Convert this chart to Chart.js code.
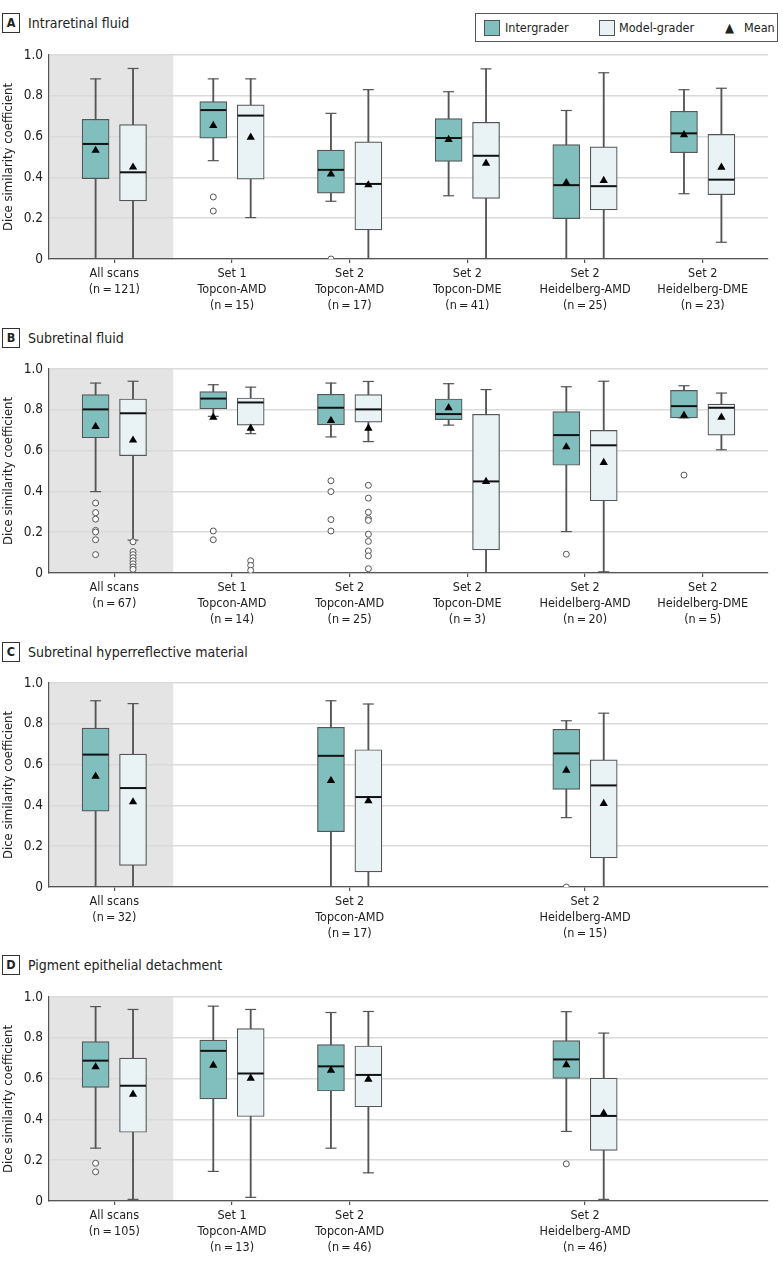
<!DOCTYPE html>
<html>
<head>
<meta charset="utf-8">
<script src="https://cdn.jsdelivr.net/npm/chart.js@4.4.1/dist/chart.umd.min.js"></script>
<style>
  body { margin: 0; width: 783px; height: 1265px; position: relative; background: #fff; color: #222;
         font-family: 'DejaVu Sans Condensed', 'DejaVu Sans', sans-serif; }
  .tag { position: absolute; left: 2px; width: 18px; height: 20px; border: 1px solid #333; box-sizing: border-box;
         font-weight: bold; font-size: 12.5px; line-height: 18px; text-align: center; }
  .title { position: absolute; left: 28px; font-size: 14px; line-height: 20px; }
  canvas { position: absolute; left: 0; }
  #legend { position: absolute; left: 475px; top: 13px; width: 303px; height: 29px; border: 1px solid #555;
            box-sizing: border-box; font-size: 12.5px; }
  #legend span { position: absolute; top: 5px; line-height: 17px; }
  .sw { position: absolute; top: 6px; width: 16px; height: 16px; border: 1px solid #555; box-sizing: border-box; }
</style>
</head>
<body>
<div class="tag" style="top:13px">A</div><div class="title" style="top:13px">Intraretinal fluid</div>
<div class="tag" style="top:328px">B</div><div class="title" style="top:328px">Subretinal fluid</div>
<div class="tag" style="top:642px">C</div><div class="title" style="top:642px">Subretinal hyperreflective material</div>
<div class="tag" style="top:955px">D</div><div class="title" style="top:955px">Pigment epithelial detachment</div>

<div id="legend">
  <div class="sw" style="left:8px;background:#80bfbd"></div><span style="left:29px">Intergrader</span>
  <div class="sw" style="left:123px;background:#e9f3f5"></div><span style="left:143px">Model-grader</span>
  <span style="left:249px;font-size:13px">&#9650;</span><span style="left:268px">Mean</span>
</div>

<canvas id="chartA" width="783" height="281" style="top:40px"></canvas>
<canvas id="chartB" width="783" height="281" style="top:354px"></canvas>
<canvas id="chartC" width="783" height="281" style="top:668px"></canvas>
<canvas id="chartD" width="783" height="281" style="top:982px"></canvas>

<script>
const FONT = "'DejaVu Sans Condensed', 'DejaVu Sans', sans-serif";
const INTER_FILL = '#80bfbd';
const MODEL_FILL = '#e9f3f5';
const LINE = '#555';
const SHADE = '#e4e4e4';
const OFFSET = 0.159;
const BOX_W = 27;

// each box row: [min, q1, median, q3, max]

// A  Intraretinal fluid
const irfPos = [0, 1, 2, 3, 4, 5];
const irfLabels = [['All scans', '(n\u2009=\u2009121)'], ['Set 1', 'Topcon-AMD', '(n\u2009=\u200915)'],
  ['Set 2', 'Topcon-AMD', '(n\u2009=\u200917)'], ['Set 2', 'Topcon-DME', '(n\u2009=\u200941)'],
  ['Set 2', 'Heidelberg-AMD', '(n\u2009=\u200925)'], ['Set 2', 'Heidelberg-DME', '(n\u2009=\u200923)']];
const irfInter = [[0, 0.394, 0.564, 0.685, 0.883], [0.482, 0.592, 0.730, 0.772, 0.883], [0.283, 0.323, 0.437, 0.534, 0.714],
  [0.31, 0.478, 0.593, 0.688, 0.82], [0, 0.198, 0.362, 0.561, 0.728], [0.32, 0.521, 0.616, 0.724, 0.83]];
const irfInterMean = [0.532, 0.654, 0.416, 0.585, 0.374, 0.609];
const irfInterOut = [[], [0.304, 0.235], [0], [], [], []];
const irfModel = [[0, 0.285, 0.425, 0.659, 0.934], [0.203, 0.391, 0.703, 0.756, 0.883], [0, 0.143, 0.368, 0.574, 0.83],
  [0, 0.297, 0.506, 0.670, 0.932], [0, 0.241, 0.357, 0.550, 0.913], [0.082, 0.315, 0.389, 0.611, 0.837]];
const irfModelMean = [0.45, 0.596, 0.363, 0.469, 0.384, 0.449];
const irfModelOut = [[], [], [], [], [], []];

// B  Subretinal fluid
const srfPos = [0, 1, 2, 3, 4, 5];
const srfLabels = [['All scans', '(n\u2009=\u200967)'], ['Set 1', 'Topcon-AMD', '(n\u2009=\u200914)'],
  ['Set 2', 'Topcon-AMD', '(n\u2009=\u200925)'], ['Set 2', 'Topcon-DME', '(n\u2009=\u20093)'],
  ['Set 2', 'Heidelberg-AMD', '(n\u2009=\u200920)'], ['Set 2', 'Heidelberg-DME', '(n\u2009=\u20095)']];
const srfInter = [[0.399, 0.663, 0.802, 0.874, 0.931], [0.768, 0.805, 0.855, 0.889, 0.923], [0.667, 0.726, 0.810, 0.876, 0.931],
  [0.725, 0.752, 0.779, 0.853, 0.928], [0.203, 0.528, 0.676, 0.791, 0.913], [0.76, 0.76, 0.818, 0.895, 0.918]];
const srfInterMean = [0.718, 0.763, 0.747, 0.810, 0.618, 0.773];
const srfInterOut = [[0.343, 0.296, 0.264, 0.209, 0.201, 0.163, 0.090], [0.206, 0.163], [0.452, 0.399, 0.262, 0.206],
  [], [0.092], [0.480]];
const srfModel = [[0.161, 0.575, 0.783, 0.853, 0.940], [0.683, 0.725, 0.836, 0.858, 0.911], [0.644, 0.739, 0.802, 0.874, 0.939],
  [0, 0.113, 0.449, 0.778, 0.899], [0.006, 0.354, 0.626, 0.699, 0.940], [0.604, 0.676, 0.810, 0.828, 0.882]];
const srfModelMean = [0.651, 0.709, 0.709, 0.448, 0.541, 0.763];
const srfModelOut = [[0.153, 0.105, 0.09, 0.075, 0.06, 0.045, 0.03, 0.018], [0.06, 0.037, 0.013],
  [0.430, 0.367, 0.298, 0.267, 0.258, 0.190, 0.155, 0.108, 0.084, 0.021], [], [], []];

// C  Subretinal hyperreflective material
const shrmPos = [0, 2, 4];
const shrmLabels = [['All scans', '(n\u2009=\u200932)'], ['Set 2', 'Topcon-AMD', '(n\u2009=\u200917)'],
  ['Set 2', 'Heidelberg-AMD', '(n\u2009=\u200915)']];
const shrmInter = [[0, 0.372, 0.649, 0.779, 0.913], [0, 0.271, 0.643, 0.783, 0.913], [0.340, 0.478, 0.655, 0.773, 0.815]];
const shrmInterMean = [0.543, 0.522, 0.572];
const shrmInterOut = [[], [], [0]];
const shrmModel = [[0, 0.106, 0.485, 0.651, 0.899], [0, 0.074, 0.441, 0.673, 0.897], [0, 0.143, 0.498, 0.623, 0.852]];
const shrmModelMean = [0.417, 0.422, 0.409];
const shrmModelOut = [[], [], []];

// D  Pigment epithelial detachment
const pedPos = [0, 1, 2, 4];
const pedLabels = [['All scans', '(n\u2009=\u2009105)'], ['Set 1', 'Topcon-AMD', '(n\u2009=\u200913)'],
  ['Set 2', 'Topcon-AMD', '(n\u2009=\u200946)'], ['Set 2', 'Heidelberg-AMD', '(n\u2009=\u200946)']];
const pedInter = [[0.259, 0.557, 0.688, 0.781, 0.953], [0.145, 0.501, 0.736, 0.789, 0.955], [0.259, 0.539, 0.660, 0.767, 0.924],
  [0.341, 0.601, 0.694, 0.786, 0.928]];
const pedInterMean = [0.657, 0.665, 0.641, 0.668];
const pedInterOut = [[0.185, 0.143], [], [], [0.182]];
const pedModel = [[0.008, 0.337, 0.565, 0.700, 0.939], [0.018, 0.414, 0.625, 0.845, 0.939], [0.138, 0.462, 0.618, 0.760, 0.929],
  [0.008, 0.248, 0.417, 0.602, 0.823]];
const pedModelMean = [0.523, 0.601, 0.596, 0.430];
const pedModelOut = [[], [], [], []];

// grey band behind the "All scans" group
const shadePlugin = {
  id: 'shade',
  beforeDraw(chart) {
    const { ctx, chartArea, scales: { x } } = chart;
    const right = x.getPixelForValue(0.5);
    ctx.save();
    ctx.fillStyle = SHADE;
    ctx.fillRect(chartArea.left, chartArea.top, right - chartArea.left, chartArea.bottom - chartArea.top);
    ctx.restore();
  }
};

function boxPlot(id, pos, labels, inter, interMean, interOut, model, modelMean, modelOut) {
  const groups = [
    { off: -OFFSET, box: inter, mean: interMean, out: interOut, fill: INTER_FILL },
    { off: OFFSET, box: model, mean: modelMean, out: modelOut, fill: MODEL_FILL }
  ];
  let datasets = [];
  groups.forEach(g => {
    const xs = pos.map(p => p + g.off);
    // whisker
    datasets.push({ type: 'bar', data: xs.map((x, i) => ({ x: x, y: [g.box[i][0], g.box[i][4]] })),
      backgroundColor: LINE, barThickness: 1.2, maxBarThickness: 1.2, grouped: false, order: 6 });
    // box
    datasets.push({ type: 'bar', data: xs.map((x, i) => ({ x: x, y: [g.box[i][1], g.box[i][3]] })),
      backgroundColor: g.fill, borderColor: LINE, borderWidth: 1.2, borderSkipped: false,
      barThickness: BOX_W, maxBarThickness: BOX_W, grouped: false, order: 5 });
    // caps
    datasets.push({ type: 'scatter', data: xs.flatMap((x, i) => [{ x: x, y: g.box[i][0] }, { x: x, y: g.box[i][4] }]),
      pointStyle: 'line', radius: 5.5, borderColor: LINE, borderWidth: 1.2, order: 4 });
    // median
    datasets.push({ type: 'scatter', data: xs.map((x, i) => ({ x: x, y: g.box[i][2] })),
      pointStyle: 'line', radius: BOX_W / 2 - 0.5, borderColor: '#111', borderWidth: 2, order: 3 });
    // outliers
    datasets.push({ type: 'scatter', data: xs.flatMap((x, i) => g.out[i].map(v => ({ x: x, y: v }))),
      pointStyle: 'circle', radius: 3, backgroundColor: '#fff', borderColor: LINE, borderWidth: 1, order: 2 });
    // mean
    datasets.push({ type: 'scatter', data: xs.map((x, i) => ({ x: x, y: g.mean[i] })),
      pointStyle: 'triangle', radius: 4.8, backgroundColor: '#000', borderColor: '#000', borderWidth: 0, order: 1 });
  });

  new Chart(document.getElementById(id), {
    type: 'bar',
    data: { datasets: datasets },
    plugins: [shadePlugin],
    options: {
      responsive: false,
      animation: false,
      events: [],
      layout: { padding: { top: 12, right: 8, left: 0, bottom: 0 } },
      plugins: { legend: { display: false }, tooltip: { enabled: false } },
      scales: {
        x: {
          type: 'linear', min: -0.555, max: 5.555, offset: false,
          afterBuildTicks: axis => { axis.ticks = pos.map(v => ({ value: v })); },
          afterFit: axis => { axis.height = 62; },
          grid: { drawOnChartArea: false, drawTicks: true, tickLength: 4, color: LINE, lineWidth: 1.2, offset: false },
          border: { color: LINE, width: 1.2 },
          ticks: {
            autoSkip: false, maxRotation: 0, padding: 3, color: '#222',
            font: { family: FONT, size: 12.5, lineHeight: 1.28 },
            callback: value => labels[pos.indexOf(value)]
          }
        },
        y: {
          min: 0, max: 1,
          afterFit: axis => { axis.width = 49; },
          grid: { color: '#dadada', lineWidth: 1.6, drawTicks: false },
          border: { color: LINE, width: 1.2 },
          ticks: {
            stepSize: 0.2, padding: 6, color: '#222',
            font: { family: FONT, size: 13.5 },
            callback: v => v === 0 ? '0' : v.toFixed(1)
          },
          title: { display: true, text: 'Dice similarity coefficient', color: '#222',
            font: { family: FONT, size: 13 }, padding: { top: 1, bottom: 0 } }
        }
      }
    }
  });
}

boxPlot('chartA', irfPos, irfLabels, irfInter, irfInterMean, irfInterOut, irfModel, irfModelMean, irfModelOut);
boxPlot('chartB', srfPos, srfLabels, srfInter, srfInterMean, srfInterOut, srfModel, srfModelMean, srfModelOut);
boxPlot('chartC', shrmPos, shrmLabels, shrmInter, shrmInterMean, shrmInterOut, shrmModel, shrmModelMean, shrmModelOut);
boxPlot('chartD', pedPos, pedLabels, pedInter, pedInterMean, pedInterOut, pedModel, pedModelMean, pedModelOut);
</script>
</body>
</html>
